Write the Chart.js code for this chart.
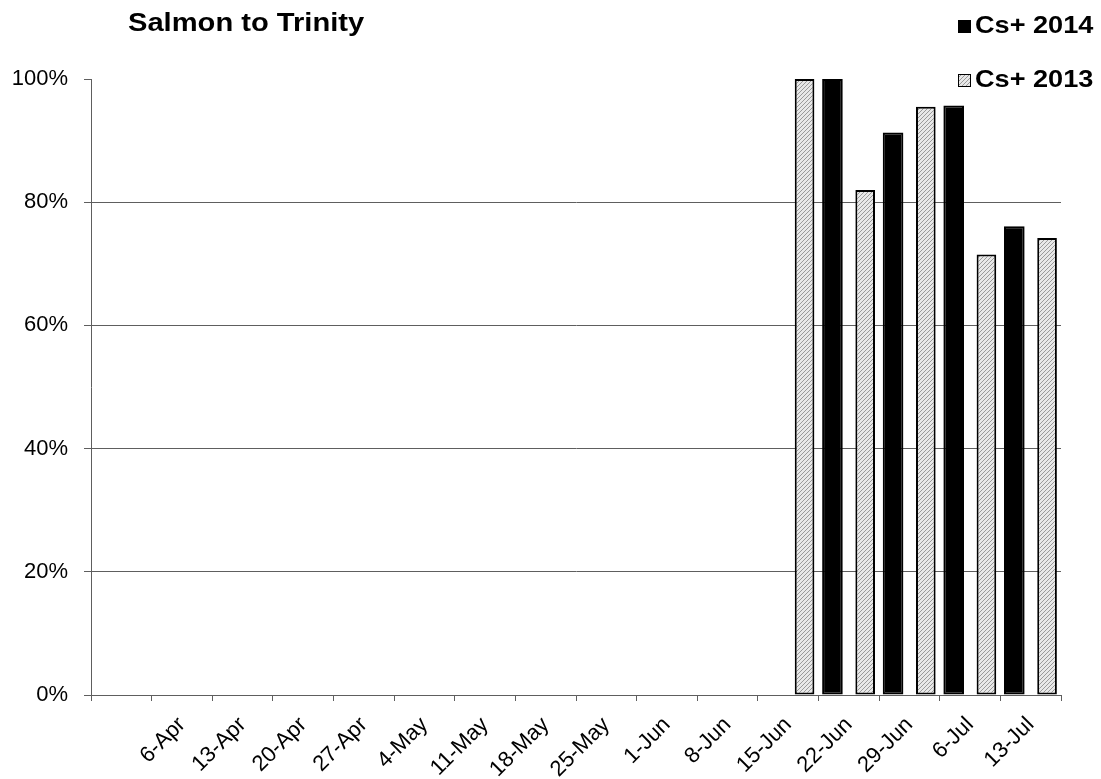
<!DOCTYPE html>
<html>
<head>
<meta charset="utf-8">
<title>Salmon to Trinity</title>
<script src="https://cdn.jsdelivr.net/npm/chart.js@4.4.1/dist/chart.umd.min.js"></script>
<style>
  html, body { margin: 0; padding: 0; background: #fff; }
  #wrap { width: 1101px; height: 779px; }
</style>
</head>
<body>
<div id="wrap"><canvas id="myChart" width="1101" height="779"></canvas></div>
<script>
// datos
const chartTitle = 'Salmon to Trinity';
const weeks = ['', '6-Apr', '13-Apr', '20-Apr', '27-Apr', '4-May', '11-May', '18-May',
  '25-May', '1-Jun', '8-Jun', '15-Jun', '22-Jun', '29-Jun', '6-Jul', '13-Jul'];
const cs2014 = [null, null, null, null, null, null, null, null, null, null, null, null, 100, 91.3, 95.7, 76.1];
const cs2013 = [null, null, null, null, null, null, null, null, null, null, null, 100, 82.0, 95.5, 71.5, 74.2];
const yTicks = [0, 20, 40, 60, 80, 100];

// patron rayado para la serie 2013
function makeHatch() {
  const c = document.createElement('canvas');
  c.width = 4; c.height = 4;
  const g = c.getContext('2d');
  g.fillStyle = '#e8e8e8';
  g.fillRect(0, 0, 4, 4);
  g.strokeStyle = '#9a9a9a';
  g.lineWidth = 1;
  g.beginPath();
  g.moveTo(0, 4); g.lineTo(4, 0);
  g.moveTo(-1, 1); g.lineTo(1, -1);
  g.moveTo(3, 5); g.lineTo(5, 3);
  g.stroke();
  return g.createPattern(c, 'repeat');
}
const hatch = makeHatch();

// titulo y leyenda dibujados a mano
const titleLegend = {
  id: 'titleLegend',
  afterDraw(chart) {
    const ctx = chart.ctx;
    ctx.save();
    ctx.fillStyle = '#000';
    ctx.textBaseline = 'alphabetic';
    ctx.font = 'bold 26px "Liberation Sans", Arial, sans-serif';
    ctx.translate(128, 31);
    ctx.scale(1.12, 1);
    ctx.fillText(chartTitle, 0, 0);
    ctx.restore();

    chart.data.datasets.forEach((ds, i) => {
      const y = 33 + i * 54;
      ctx.save();
      ctx.fillStyle = ds.backgroundColor;
      ctx.fillRect(958, y - 13, 13, 13);
      ctx.strokeStyle = '#000';
      ctx.lineWidth = 1;
      ctx.strokeRect(958.5, y - 12.5, 12, 12);
      ctx.fillStyle = '#000';
      ctx.font = 'bold 24px "Liberation Sans", Arial, sans-serif';
      ctx.translate(975, y);
      ctx.scale(1.13, 1);
      ctx.fillText(ds.label, 0, 0);
      ctx.restore();
    });
  }
};

new Chart(document.getElementById('myChart'), {
  type: 'bar',
  data: {
    labels: weeks,
    datasets: [
      {
        label: 'Cs+ 2014',
        data: cs2014,
        backgroundColor: '#000',
        borderColor: '#000',
        borderWidth: 2,
        borderSkipped: false,
        categoryPercentage: 1.08,
        barPercentage: 0.63
      },
      {
        label: 'Cs+ 2013',
        data: cs2013,
        backgroundColor: hatch,
        borderColor: '#000',
        borderWidth: 2,
        borderSkipped: false,
        categoryPercentage: 1.08,
        barPercentage: 0.6
      }
    ]
  },
  options: {
    responsive: false,
    animation: false,
    devicePixelRatio: 1,
    layout: { padding: { left: 0, top: 79, right: 40, bottom: 0 } },
    plugins: {
      legend: { display: false },
      title: { display: false },
      tooltip: { enabled: false }
    },
    scales: {
      x: {
        offset: true,
        grid: { offset: true, drawOnChartArea: false, drawTicks: true, tickLength: 6, color: '#5e5e5e' },
        border: { display: true, color: '#5e5e5e', width: 1 },
        ticks: {
          autoSkip: false,
          minRotation: 45,
          maxRotation: 45,
          padding: 11,
          color: '#000',
          font: { family: '"Liberation Sans", Arial, sans-serif', size: 22 }
        },
        afterFit: (ax) => { ax.height = 84; }
      },
      y: {
        min: 0,
        max: 100,
        afterBuildTicks: (ax) => { ax.ticks = yTicks.map(v => ({ value: v })); },
        grid: {
          color: (c) => (c.tick && c.tick.value === 100 ? 'rgba(0,0,0,0)' : '#5e5e5e'),
          tickColor: '#5e5e5e',
          tickLength: 7,
          drawTicks: true
        },
        border: { display: true, color: '#5e5e5e', width: 1 },
        ticks: {
          padding: 16,
          color: '#000',
          font: { family: '"Liberation Sans", Arial, sans-serif', size: 22 },
          callback: (v) => v + '%'
        },
        afterFit: (ax) => { ax.width = 91; }
      }
    }
  },
  plugins: [titleLegend]
});
</script>
</body>
</html>
